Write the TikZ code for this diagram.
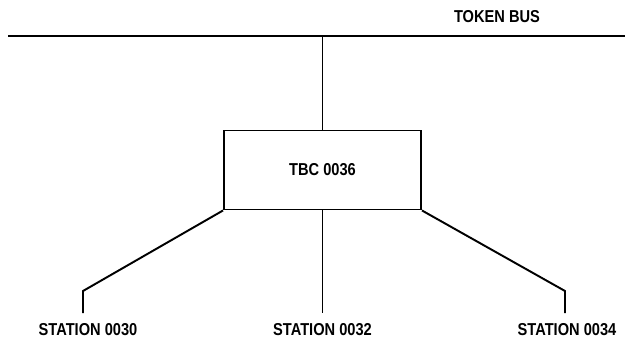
\documentclass[tikz,border=0pt]{standalone}
\usepackage{fontspec}
\setmainfont[FakeStretch=0.85]{Liberation Sans}
\usetikzlibrary{positioning}
\tikzset{box/.style={rectangle,draw,line width=1.1pt,minimum width=3.94cm,minimum height=1.58cm,font=\fontsize{9.8}{11}\bfseries},
  station/.style={inner xsep=0pt,inner ysep=0.21cm,anchor=north,font=\fontsize{9.8}{11}\bfseries},
  wire/.style={line width=1.1pt}}

\begin{document}
\begin{tikzpicture}[x=0.02cm,y=-0.02cm]
\useasboundingbox (0,0) rectangle (625,344);
\coordinate (busL) at (8,36);
\coordinate (busR) at (625,36);
\node[font=\fontsize{9.8}{11}\bfseries] (bus) at (497,17) {TOKEN BUS};
\node[box] (tbc) at (322.5,170) {TBC 0036};
\coordinate (tap) at (tbc.north |- busL);
\node[station] (s30) at (88,313) {STATION 0030};
\node[station] (s32) at (322.5,313) {STATION 0032};
\node[station] (s34) at (567,313) {STATION 0034};
\coordinate (k30) at (83,291);
\coordinate (k34) at (565,291);
\draw[wire] (busL) -- (busR);
\draw[wire] (tap) -- (tbc.north);
\draw[wire] (tbc.south west) -- (k30) -- (k30 |- s30.north);
\draw[wire] (tbc.south) -- (s32.north);
\draw[wire] (tbc.south east) -- (k34) -- (k34 |- s34.north);
\end{tikzpicture}
\end{document}
